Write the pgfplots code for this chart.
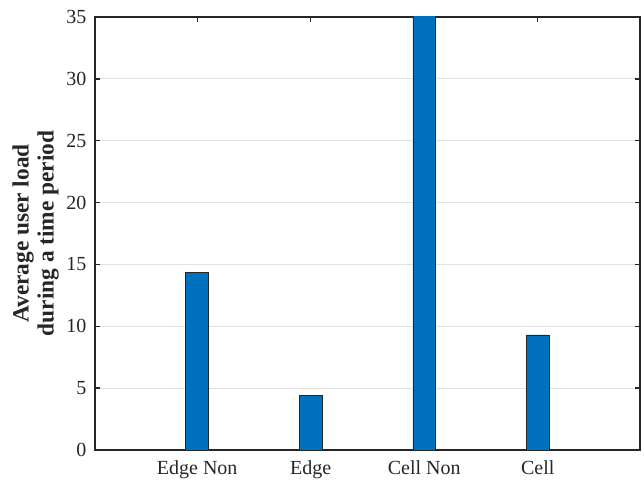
\documentclass[border=0pt]{standalone}
\usepackage{pgfplots}
\pgfplotsset{compat=1.18}
\usepackage{fontspec}
\setmainfont{Liberation Serif}
\definecolor{mblue}{RGB}{0,114,189}
\definecolor{axgray}{RGB}{38,38,38}
\definecolor{gridgray}{RGB}{225,225,225}
\begin{document}
\begin{tikzpicture}
\begin{axis}[
  name=ax,
  at={(0,0)}, anchor=south west,
  scale only axis,
  width=408.75pt, height=324.75pt,
  xmin=0.1, xmax=4.9,
  ymin=0, ymax=35,
  ytick={0,5,...,35},
  xtick={1,2,3,4},
  xticklabels={Edge Non,Edge,Cell Non,Cell},
  tick align=inside,
  major tick length=4pt,
  ymajorgrids,
  grid style={gridgray, line width=0.6pt},
  axis line style={axgray, line width=1.1pt},
  tick style={axgray, line width=1pt},
  ticklabel style={font=\fontsize{15}{17}\selectfont, text=axgray},
  /pgf/number format/assume math mode=true,
  yticklabel style={xshift=-3pt},
  xticklabel style={yshift=-4.5pt},
  ylabel={\textbf{Average user load}\\\textbf{during a time period}},
  ylabel style={at={(axis description cs:0,0.5)}, anchor=center,
    yshift=44.6pt, align=center, font=\fontsize{17.5}{18.8}\selectfont, text=axgray},
  clip=true,
]
\addplot[ybar, bar width=0.2, fill=mblue, draw=axgray, line width=0.6pt]
  coordinates {(1,14.33) (2,4.39) (3,35.5) (4,9.3)};
\end{axis}
\path (-71.25pt,-23.25pt) rectangle (411.75pt,337.5pt);
\end{tikzpicture}
\end{document}
